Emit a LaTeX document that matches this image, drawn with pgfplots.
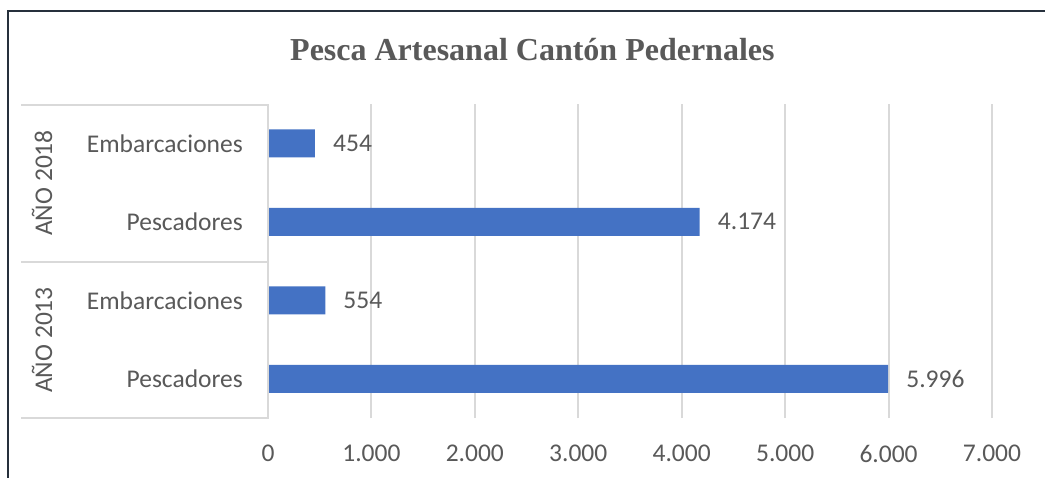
\documentclass[border=0pt]{standalone}
\usepackage{pgfplots}
\pgfplotsset{compat=1.18}
\usepackage{fontspec}
\setmainfont{Carlito}
\newfontfamily\titlefont{Liberation Serif}
\definecolor{txt}{HTML}{595959}
\definecolor{barblue}{HTML}{4472C4}
\definecolor{gridc}{HTML}{D9D9D9}
\definecolor{framec}{HTML}{26303C}
\newcommand{\lblfont}{\fontsize{25.5}{30}\selectfont}
\begin{document}
\begin{tikzpicture}[x=1pt,y=1pt]
\useasboundingbox (0,0) rectangle (1045,477);
\fill[white] (0,0) rectangle (1045,477);
\draw[line width=2.8pt, framec] (8,-20) |- (1070,466);
\node[anchor=base west, inner sep=0pt, text=txt] at (290,416) {\titlefont\fontsize{32}{38}\selectfont\bfseries Pesca Artesanal Cantón Pedernales};
\begin{axis}[
  at={(268pt,59pt)}, anchor=south west,
  scale only axis, width=724pt, height=314pt,
  xmin=0, xmax=7000, ymin=-0.5, ymax=3.5,
  xbar, bar width=28pt,
  xtick={0,1000,2000,3000,4000,5000,6000,7000},
  xticklabels={0,1.000,2.000,3.000,4.000,5.000,6.000,7.000},
  ytick={0,1,2,3},
  yticklabels={Pescadores,Embarcaciones,Pescadores,Embarcaciones},
  xmajorgrids, grid style={gridc, line width=2pt},
  axis line style={draw=none},
  major tick length=0pt,
  ticklabel style={font=\lblfont, text=txt},
  xticklabel style={anchor=north, inner sep=0pt, yshift=-27pt},
  yticklabel style={anchor=east, inner sep=0pt, xshift=-25pt},
  clip=false,
  nodes near coords, point meta=explicit symbolic,
  every node near coord/.append style={anchor=west, inner sep=0pt, xshift=18pt, font=\lblfont, text=txt},
]
\addplot[fill=barblue, draw=none] coordinates {
  (5996,0) [5.996]
  (554,1) [554]
  (4174,2) [4.174]
  (454,3) [454]
};
\end{axis}
\draw[gridc, line width=2pt] (21,372) -- (268,372);
\draw[gridc, line width=2pt] (21,215) -- (268,215);
\draw[gridc, line width=2pt] (21,59) -- (269,59);
\draw[gridc, line width=2pt] (268,58) -- (268,373);
\node[rotate=90, text=txt, inner sep=0pt] at (42,294) {\lblfont AÑO 2018};
\node[rotate=90, text=txt, inner sep=0pt] at (42,137) {\lblfont AÑO 2013};
\end{tikzpicture}
\end{document}
